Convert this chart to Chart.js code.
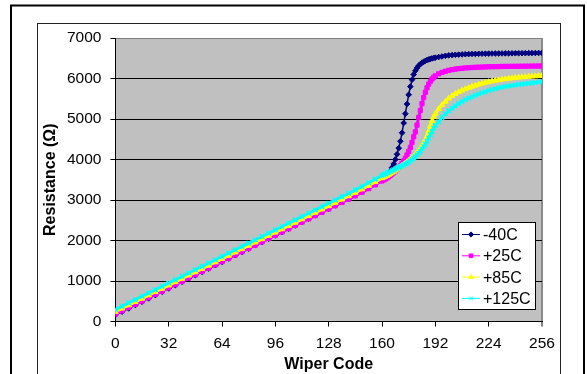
<!DOCTYPE html>
<html><head><meta charset="utf-8">
<script src="https://cdn.jsdelivr.net/npm/chart.js@4.4.1/dist/chart.umd.min.js"></script>
<style>html,body{margin:0;padding:0;background:#fff;}canvas{display:block;}</style>
</head><body>
<canvas id="c" width="587" height="374"></canvas>
<script>
const seriesNames = ['-40C', '+25C', '+85C', '+125C'];
const xTitle = 'Wiper Code';
const yTitle = 'Resistance (Ω)';
const xTickValues = [0, 32, 64, 96, 128, 160, 192, 224, 256];
const yTickValues = [0, 1000, 2000, 3000, 4000, 5000, 6000, 7000];

const wiperCodes = [0,4,8,12,16,20,24,28,32,36,40,44,48,52,56,60,64,68,72,76,80,84,88,92,96,100,104,108,112,116,120,124,128,132,136,140,144,148,152,156,160,
161,162,163,164,165,166,167,168,169,170,171,172,173,174,175,176,177,178,179,180,181,182,183,184,185,186,187,188,189,190,191,192,
194,196,198,200,202,204,206,208,210,212,214,216,218,220,222,224,226,228,230,232,234,236,238,240,242,244,246,248,250,252,254,256];

const resM40 = [160,242,324,406,488,570,652,734,816,898,980,1062,1144,1226,1308,1390,1472,1554,1636,1718,1800,1882,1964,2046,2128,2210,2292,2374,2456,2538,2620,2702,2784,2866,2948,3030,3115,3205,3300,3400,3510,
3540,3575,3615,3665,3725,3800,3890,4000,4130,4280,4450,4660,4900,5130,5370,5600,5800,5970,6100,6190,6260,6315,6355,6390,6415,6435,6455,6470,6485,6495,6505,6515,
6530,6545,6560,6570,6578,6585,6590,6595,6600,6603,6606,6608,6610,6612,6613,6615,6616,6617,6618,6619,6620,6621,6622,6623,6624,6625,6626,6627,6628,6629,6630,6632];

const resP25 = [180,261,342,424,505,586,667,748,830,911,992,1073,1154,1236,1317,1398,1479,1560,1642,1723,1804,1885,1966,2048,2129,2210,2291,2372,2454,2535,2616,2697,2778,2860,2941,3022,3105,3190,3280,3375,3470,
3495,3520,3545,3575,3605,3640,3675,3715,3755,3800,3850,3905,3965,4030,4110,4200,4300,4420,4560,4680,4850,5040,5210,5380,5530,5660,5770,5860,5930,5985,6030,6065,
6115,6150,6178,6200,6218,6232,6243,6252,6260,6266,6271,6276,6280,6283,6286,6289,6291,6293,6295,6297,6298,6299,6300,6301,6302,6303,6304,6305,6306,6307,6308,6309];

const resP85 = [240,322,403,485,566,648,730,811,893,974,1056,1138,1219,1301,1382,1464,1546,1627,1709,1790,1872,1954,2035,2117,2198,2280,2362,2443,2525,2606,2688,2770,2851,2933,3014,3096,3180,3265,3355,3445,3540,
3560,3580,3600,3625,3650,3675,3700,3730,3760,3790,3820,3850,3880,3910,3940,3970,4005,4040,4080,4120,4165,4215,4270,4330,4400,4480,4580,4700,4830,4950,5050,5130,
5250,5345,5430,5510,5568,5620,5665,5705,5740,5772,5801,5828,5853,5876,5897,5916,5933,5949,5963,5976,5988,5999,6009,6018,6026,6033,6040,6046,6052,6057,6062,6067];

const resP125 = [295,377,459,541,623,705,787,869,951,1033,1115,1197,1279,1361,1443,1525,1607,1689,1771,1853,1935,2017,2099,2181,2263,2345,2427,2509,2591,2673,2755,2837,2919,3001,3083,3165,3250,3335,3425,3515,3605,
3625,3645,3665,3685,3705,3725,3745,3765,3785,3805,3825,3845,3865,3890,3915,3940,3970,4000,4035,4070,4110,4155,4205,4260,4320,4380,4450,4530,4610,4690,4770,4840,
4930,5040,5130,5200,5265,5325,5380,5430,5475,5515,5552,5586,5618,5648,5676,5702,5726,5748,5768,5786,5802,5816,5829,5841,5852,5862,5872,5882,5892,5902,5912,5922];

const seriesValues = [resM40, resP25, resP85, resP125];
const seriesColors = ['#000080', '#FF00FF', '#FFFF00', '#00FFFF'];
const seriesMarkers = ['rectRot', 'rect', 'triangle', 'crossRot'];
const seriesLineWidths = [1.5, 3, 3, 3];
const seriesMarkerRadius = [2.8, 3, 3.2, 3.2];

const FONT = "'Liberation Sans', Arial, sans-serif";
Chart.defaults.font.family = FONT;
Chart.defaults.color = '#000';

const datasets = seriesNames.map((name, i) => ({
  label: name,
  data: wiperCodes.map((c, k) => ({x: c, y: seriesValues[i][k]})),
  showLine: true,
  borderColor: seriesColors[i],
  backgroundColor: seriesColors[i],
  borderWidth: seriesLineWidths[i],
  pointStyle: seriesMarkers[i],
  pointRadius: seriesMarkerRadius[i],
  pointBorderWidth: i === 3 ? 1.5 : 1,
  pointBorderColor: seriesColors[i],
  pointBackgroundColor: seriesColors[i],
  order: 4 - i,
  tension: 0
}));

const framePlugin = {
  id: 'frame',
  beforeDraw(chart) {
    const ctx = chart.ctx, a = chart.chartArea;
    ctx.save();
    ctx.fillStyle = '#fff';
    ctx.fillRect(0, 0, chart.width, chart.height);
    ctx.strokeStyle = '#000';
    ctx.lineWidth = 2;
    ctx.strokeRect(11, 5.5, 573, 420);
    ctx.lineWidth = 1;
    ctx.strokeStyle = '#222';
    ctx.strokeRect(37.5, 23.5, 523, 420);
    ctx.fillStyle = '#C0C0C0';
    ctx.fillRect(a.left, a.top, a.right - a.left, a.bottom - a.top);
    ctx.restore();
  }
};

const legendPlugin = {
  id: 'boxLegend',
  afterDraw(chart) {
    const ctx = chart.ctx;
    ctx.save();
    ctx.fillStyle = '#fff';
    ctx.fillRect(458.5, 222.5, 77, 87);
    ctx.strokeStyle = '#000';
    ctx.lineWidth = 1;
    ctx.strokeRect(458.5, 222.5, 77, 87);
    chart.data.datasets.forEach((ds, i) => {
      const y = 234.5 + i * 21.3;
      ctx.strokeStyle = ds.borderColor;
      ctx.lineWidth = 1;
      ctx.beginPath();
      ctx.moveTo(462, y);
      ctx.lineTo(480, y);
      ctx.stroke();
      ctx.fillStyle = ds.borderColor;
      ctx.strokeStyle = ds.borderColor;
      Chart.helpers.drawPoint(ctx, {
        pointStyle: ds.pointStyle, radius: 2.6, rotation: 0, borderWidth: 1
      }, 471, y);
      ctx.fillStyle = '#000';
      ctx.font = '16px ' + FONT;
      ctx.textAlign = 'left';
      ctx.textBaseline = 'middle';
      ctx.fillText(ds.label, 483, y + 1);
    });
    ctx.restore();
  }
};

new Chart(document.getElementById('c'), {
  type: 'scatter',
  data: {datasets},
  plugins: [framePlugin, legendPlugin],
  options: {
    responsive: false,
    animation: false,
    events: [],
    layout: {padding: {left: 38, top: 38, right: 45, bottom: 0}},
    plugins: {legend: {display: false}, tooltip: {enabled: false}},
    scales: {
      x: {
        type: 'linear',
        min: xTickValues[0],
        max: xTickValues[xTickValues.length - 1],
        afterBuildTicks: s => { s.ticks = xTickValues.map(v => ({value: v})); },
        afterFit: s => { s.height = 52.5; },
        ticks: {padding: 8, font: {size: 15.5}, color: '#000', maxRotation: 0, autoSkip: false, callback: v => String(v)},
        grid: {
          drawOnChartArea: true,
          color: c => (c.tick && c.tick.value === 256) ? '#8a8a8a' : 'rgba(0,0,0,0)',
          lineWidth: c => (c.tick && c.tick.value === 256) ? 2 : 1,
          tickColor: '#000', tickLength: 5, tickWidth: 1
        },
        border: {display: true, color: '#000', width: 1},
        title: {display: true, text: xTitle, font: {size: 16, weight: 'bold'}, color: '#000', padding: {top: 0, bottom: 0}}
      },
      y: {
        type: 'linear',
        min: yTickValues[0],
        max: yTickValues[yTickValues.length - 1],
        afterBuildTicks: s => { s.ticks = yTickValues.map(v => ({value: v})); },
        afterFit: s => { s.width = 77.4; },
        ticks: {padding: 9, font: {size: 15.5}, color: '#000', callback: v => String(v)},
        grid: {
          color: c => (c.tick && c.tick.value === 7000) ? '#808080' : '#000',
          tickColor: '#000', tickLength: 5, lineWidth: 1
        },
        border: {display: true, color: '#000', width: 1},
        title: {display: true, text: yTitle, font: {size: 16, weight: 'bold'}, color: '#000', padding: {top: 3, bottom: 0}}
      }
    }
  }
});
</script>
</body></html>
